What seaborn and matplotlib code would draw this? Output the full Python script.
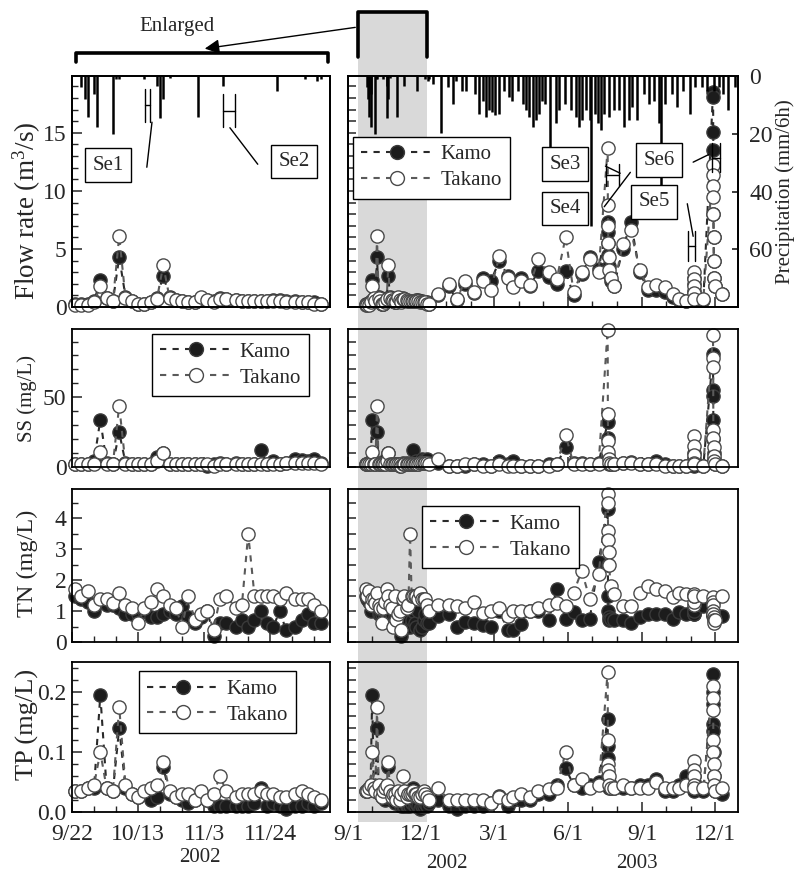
import pandas as pd
import matplotlib
matplotlib.use("Agg")
import matplotlib.pyplot as plt
import matplotlib.dates as mdates
import matplotlib.ticker as mticker
import matplotlib.transforms as mtransforms
from matplotlib.lines import Line2D
from matplotlib.patches import Rectangle, FancyArrowPatch
import seaborn as sns

# ---- sampling dates (enlarged period, then the rest of 2003) ----
sample_dates = [
    "2002-09-23", "2002-09-25", "2002-09-27", "2002-09-29", "2002-10-01", "2002-10-03", "2002-10-05", "2002-10-07", "2002-10-09", "2002-10-11",
    "2002-10-13", "2002-10-15", "2002-10-17", "2002-10-19", "2002-10-21", "2002-10-23", "2002-10-25", "2002-10-27", "2002-10-29", "2002-10-31",
    "2002-11-02", "2002-11-04", "2002-11-06", "2002-11-08", "2002-11-10", "2002-11-13", "2002-11-15", "2002-11-17", "2002-11-19", "2002-11-21",
    "2002-11-23", "2002-11-25", "2002-11-27", "2002-11-29", "2002-12-02", "2002-12-04", "2002-12-06", "2002-12-08", "2002-12-10",
    "2002-12-22", "2003-01-04", "2003-01-14", "2003-01-24", "2003-02-04", "2003-02-15", "2003-02-25", "2003-03-08", "2003-03-18", "2003-03-25",
    "2003-04-04", "2003-04-15", "2003-04-25", "2003-05-08", "2003-05-18", "2003-05-29", "2003-06-08", "2003-06-18", "2003-06-28", "2003-07-09",
    "2003-07-20 06:00", "2003-07-20 12:00", "2003-07-20 18:00", "2003-07-21 00:00", "2003-07-21 12:00", "2003-07-22", "2003-07-24",
    "2003-07-28", "2003-08-08", "2003-08-18", "2003-08-29", "2003-09-08", "2003-09-18", "2003-09-29", "2003-10-09", "2003-10-17", "2003-10-26",
    "2003-11-04 00:00", "2003-11-04 06:00", "2003-11-04 12:00", "2003-11-04 18:00", "2003-11-05",
    "2003-11-16",
    "2003-11-28 00:00", "2003-11-28 03:00", "2003-11-28 06:00", "2003-11-28 09:00", "2003-11-28 12:00", "2003-11-28 18:00",
    "2003-11-29 00:00", "2003-11-29 12:00", "2003-11-30",
    "2003-12-09",
]

flow_kamo = [
    0.3, 0.3, 0.3, 0.5, 2.3, 0.8, 0.5, 4.3, 0.9, 0.5,
    0.3, 0.3, 0.4, 0.8, 2.7, 0.9, 0.6, 0.5, 0.4, 0.4,
    0.8, 0.6, 0.5, 0.8, 0.7, 0.6, 0.5, 0.5, 0.5, 0.5,
    0.5, 0.6, 0.6, 0.5, 0.5, 0.4, 0.4, 0.4, 0.3,
    1.0, 1.8, 0.6, 2.0, 1.2, 2.5, 2.2, 4.0, 2.7, 1.8,
    2.5, 1.8, 3.1, 2.6, 2.0, 3.1, 1.0, 2.8, 4.3, 3.3,
    7.3, 6.5, 5.5, 4.5, 3.5, 2.8, 2.2,
    1.8, 5.0, 7.3, 3.0, 1.5, 1.5, 1.3, 0.9, 0.6, 0.5,
    2.5, 2.0, 1.4, 0.9, 0.6,
    0.6,
    18.5, 18.1, 15.1, 13.5, 8.0, 6.0, 4.0, 2.5, 1.8,
    1.1,
]
flow_takano = [
    0.2, 0.2, 0.2, 0.4, 1.8, 0.8, 0.5, 6.1, 0.8, 0.5,
    0.3, 0.3, 0.4, 0.7, 3.6, 0.8, 0.6, 0.5, 0.4, 0.4,
    0.9, 0.6, 0.4, 0.7, 0.7, 0.6, 0.5, 0.5, 0.5, 0.5,
    0.5, 0.5, 0.5, 0.4, 0.4, 0.4, 0.4, 0.3, 0.3,
    1.1, 2.0, 0.7, 2.2, 1.3, 2.2, 1.5, 4.4, 2.5, 1.7,
    2.2, 1.9, 4.1, 3.0, 2.4, 6.0, 1.3, 3.0, 4.1, 3.0,
    13.7, 8.8, 7.0, 5.5, 4.3, 3.2, 2.5,
    1.8, 5.4, 6.6, 3.2, 1.7, 1.9, 1.7, 1.1, 0.7, 0.5,
    3.0, 2.4, 1.8, 1.2, 0.7,
    0.7,
    12.2, 11.4, 10.4, 9.5, 8.0, 6.0, 4.0, 2.5, 1.8,
    1.1,
]

ss_kamo = [
    2, 2, 2, 4, 34, 3, 2, 25, 3, 2,
    2, 2, 2, 7, 10, 2, 2, 2, 2, 2,
    2, 1, 2, 3, 2, 3, 2, 2, 2, 12,
    2, 4, 2, 3, 6, 5, 4, 6, 3,
    3, 1, 1, 1, 2, 2, 1, 4.3, 2, 4,
    1, 1, 1, 2, 2, 14, 3, 3, 2, 3,
    32, 20.6, 8, 4, 3, 2, 2,
    2, 3, 3.5, 2, 2, 4, 2, 1, 1, 1,
    10, 6, 3, 2, 1,
    1,
    81, 55.5, 51, 34, 20, 10, 6, 3, 2,
    1,
]
ss_takano = [
    2, 2, 2, 2, 11, 2, 2, 44, 2, 2,
    2, 2, 2, 4, 10, 2, 2, 2, 2, 2,
    2, 2, 1, 2, 2, 2, 2, 2, 2, 2,
    2, 2, 2, 3, 3, 3, 3, 3, 2,
    6, 1, 1, 2, 2, 1, 1, 2, 1, 1,
    1, 1, 1, 1, 2, 23, 2, 2, 2, 2,
    98.6, 38, 18.4, 10.6, 6, 3, 2,
    2, 3, 3, 2, 2, 2, 1, 1, 1, 1,
    22, 15, 8.5, 3, 2,
    1,
    95, 78, 71.6, 26.5, 21, 14, 7.8, 4, 2,
    1,
]

tn_kamo = [
    1.5, 1.4, 1.3, 1.0, 1.3, 1.2, 1.2, 1.1, 0.9, 0.9,
    0.9, 1.0, 0.8, 0.8, 0.9, 1.0, 0.9, 1.15, 0.8, 0.6,
    0.8, 1.0, 0.2, 0.6, 0.6, 0.5, 0.7, 0.5, 0.7, 1.0,
    0.6, 0.5, 1.0, 0.4, 0.5, 0.7, 0.9, 0.6, 0.6,
    0.84, 0.9, 0.5, 0.65, 0.6, 0.55, 0.5, 1.0, 0.4, 0.4,
    0.57, 1.0, 1.0, 0.7, 1.7, 0.75, 0.96, 0.7, 0.75, 2.6,
    4.3, 2.5, 1.5, 1.0, 0.8, 0.7, 0.75,
    0.7, 0.7, 0.6, 0.8, 0.9, 0.9, 0.9, 0.75, 0.97, 0.9,
    1.0, 0.9, 0.9, 1.1, 1.0,
    1.15,
    0.9, 0.9, 0.95, 0.9, 0.85, 0.9, 0.85, 0.9, 0.9,
    0.85,
]
tn_takano = [
    1.7, 1.5, 1.65, 1.2, 1.4, 1.4, 1.25, 1.6, 1.2, 1.1,
    0.6, 1.1, 1.3, 1.7, 1.5, 1.2, 1.1, 0.5, 1.5, 0.7,
    0.9, 1.0, 0.4, 1.4, 1.5, 1.1, 1.2, 3.5, 1.5, 1.5,
    1.5, 1.5, 1.4, 1.6, 1.4, 1.4, 1.4, 1.2, 1.0,
    1.2, 1.2, 1.15, 1.1, 1.3, 0.95, 1.0, 1.1, 0.84, 1.0,
    1.0, 1.0, 1.1, 1.2, 1.25, 1.15, 1.6, 2.3, 1.4, 2.2,
    4.8, 4.5, 3.6, 3.3, 2.9, 2.5, 1.8,
    1.55, 1.15, 1.15, 1.6, 1.8, 1.7, 1.65, 1.45, 1.6, 1.55,
    1.2, 1.3, 1.5, 1.55, 1.5,
    1.5,
    1.45, 1.3, 1.2, 1.0, 0.9, 0.8, 0.7, 0.6, 0.7,
    1.5,
]

tp_kamo = [
    0.035, 0.035, 0.04, 0.04, 0.195, 0.04, 0.035, 0.14, 0.04, 0.03,
    0.025, 0.03, 0.02, 0.025, 0.075, 0.03, 0.025, 0.02, 0.015, 0.02,
    0.03, 0.02, 0.01, 0.01, 0.01, 0.01, 0.01, 0.01, 0.015, 0.04,
    0.01, 0.015, 0.01, 0.005, 0.01, 0.01, 0.015, 0.01, 0.015,
    0.02, 0.01, 0.005, 0.01, 0.01, 0.01, 0.015, 0.026, 0.01, 0.02,
    0.02, 0.02, 0.03, 0.03, 0.045, 0.073, 0.045, 0.04, 0.045, 0.05,
    0.155, 0.11, 0.09, 0.06, 0.05, 0.04, 0.04,
    0.04, 0.04, 0.04, 0.045, 0.045, 0.055, 0.035, 0.035, 0.045, 0.06,
    0.06, 0.05, 0.045, 0.04, 0.035,
    0.035,
    0.23, 0.2, 0.18, 0.147, 0.135, 0.1, 0.06, 0.04, 0.035,
    0.03,
]
tp_takano = [
    0.035, 0.035, 0.04, 0.045, 0.1, 0.04, 0.035, 0.175, 0.045, 0.03,
    0.025, 0.035, 0.04, 0.045, 0.083, 0.035, 0.025, 0.03, 0.03, 0.02,
    0.035, 0.02, 0.03, 0.06, 0.035, 0.025, 0.03, 0.03, 0.03, 0.035,
    0.03, 0.03, 0.025, 0.025, 0.03, 0.035, 0.03, 0.025, 0.02,
    0.04, 0.02, 0.02, 0.02, 0.02, 0.02, 0.015, 0.025, 0.02, 0.025,
    0.03, 0.025, 0.035, 0.038, 0.04, 0.1, 0.045, 0.055, 0.04, 0.045,
    0.234, 0.12, 0.08, 0.07, 0.06, 0.045, 0.04,
    0.04, 0.045, 0.04, 0.04, 0.04, 0.05, 0.04, 0.04, 0.04, 0.045,
    0.085, 0.07, 0.06, 0.045, 0.04,
    0.04,
    0.21, 0.19, 0.17, 0.12, 0.1, 0.08, 0.06, 0.045, 0.035,
    0.04,
]

# ---- precipitation (mm/6h) ----
rain_dates = [
    "2002-09-25", "2002-09-26", "2002-09-27", "2002-09-29", "2002-09-30", "2002-10-05", "2002-10-06", "2002-10-07",
    "2002-10-15", "2002-10-19", "2002-10-20", "2002-10-21", "2002-10-23", "2002-11-01", "2002-11-09", "2002-11-26",
    "2002-12-05", "2002-12-09", "2002-12-10",
    "2002-12-15", "2002-12-26", "2003-01-03", "2003-01-09", "2003-01-13", "2003-01-21", "2003-01-25", "2003-02-05",
    "2003-02-11", "2003-02-15", "2003-02-19", "2003-02-23", "2003-02-27", "2003-03-03", "2003-03-08", "2003-03-14",
    "2003-03-20", "2003-03-24", "2003-03-31", "2003-04-06", "2003-04-10", "2003-04-14", "2003-04-18", "2003-04-22",
    "2003-04-26", "2003-04-30", "2003-05-04", "2003-05-10", "2003-05-17", "2003-05-21", "2003-05-28", "2003-06-05",
    "2003-06-11", "2003-06-15", "2003-06-19", "2003-06-23", "2003-06-28", "2003-06-30", "2003-07-04", "2003-07-08",
    "2003-07-12", "2003-07-16", "2003-07-22", "2003-07-28", "2003-08-03", "2003-08-09", "2003-08-16", "2003-08-20",
    "2003-08-26", "2003-09-03", "2003-09-10", "2003-09-16", "2003-09-22", "2003-09-24", "2003-09-30", "2003-10-08",
    "2003-10-14", "2003-10-22", "2003-10-31", "2003-11-06", "2003-11-14", "2003-11-20", "2003-11-29", "2003-12-05",
    "2003-12-11", "2003-12-17", "2003-12-25",
]
rain_mm = [
    3.8, 7.9, 14.1, 6.2, 17.6, 20, 1, 1,
    1, 3.4, 14.5, 7.9, 0.8, 14.1, 3.4, 5.2,
    1, 1.7, 1,
    2.8, 19.8, 3.9, 9.6, 1.7, 5.1, 5.1, 6.2,
    13, 8.5, 14.2, 11.9, 12.5, 13.6, 13, 5.1,
    7.4, 8.5, 5.1, 9.6, 11.9, 14.2, 17.6, 15.3,
    13, 8.5, 9.6, 25, 16.4, 11.9, 9.6, 11.9,
    14.2, 17.6, 15.3, 11.9, 15.3, 52, 13, 16.4,
    18.7, 13, 14.2, 11.9, 11.9, 17.6, 15.3, 10.8,
    15.3, 6.2, 9.6, 8.5, 16.4, 38, 9.6, 6.2,
    10.8, 5.1, 13, 3.9, 3.9, 5.1, 5.1, 3.9,
    6.2, 11.9, 3.9,
]

series_names = ["Kamo", "Takano"]

df = pd.DataFrame({
    "date": pd.to_datetime(sample_dates, format="ISO8601"),
    "Flow_Kamo": flow_kamo, "Flow_Takano": flow_takano,
    "SS_Kamo": ss_kamo, "SS_Takano": ss_takano,
    "TN_Kamo": tn_kamo, "TN_Takano": tn_takano,
    "TP_Kamo": tp_kamo, "TP_Takano": tp_takano,
})
rain = pd.DataFrame({"date": pd.to_datetime(rain_dates, format="ISO8601"), "mm": rain_mm})

# ---- style ----
sns.set_theme(style="ticks")
plt.rcParams["font.family"] = ["Liberation Serif", "DejaVu Serif"]
plt.rcParams["mathtext.fontset"] = "custom"
plt.rcParams["mathtext.rm"] = "Liberation Serif"
plt.rcParams["mathtext.it"] = "Liberation Serif:italic"
plt.rcParams["axes.edgecolor"] = "black"
plt.rcParams["axes.linewidth"] = 1.3

W, H = 796, 876
fig = plt.figure(figsize=(W / 100, H / 100), dpi=100, facecolor="white")


def box(x0, y0, x1, y1):
    return [x0 / W, 1 - y1 / H, (x1 - x0) / W, (y1 - y0) / H]


def ftext(x, y, s, **kw):
    fig.text(x / W, 1 - y / H, s, ha="center", va="center", **kw)


cols = [(72, 330), (348, 738)]
rows = [(76, 307), (329, 467), (489, 642), (662, 812)]
axes = [[fig.add_axes(box(c[0], r[0], c[1], r[1])) for c in cols] for r in rows]

STY = {
    "Kamo": dict(color="#2a2a2a", markerfacecolor="#1c1c1c", markeredgecolor="#3a3a3a"),
    "Takano": dict(color="#5a5a5a", markerfacecolor="white", markeredgecolor="#4a4a4a"),
}
DASH = (0, (3, 3))
TICK_FS = 17

variables = ["Flow", "SS", "TN", "TP"]
ylims = [(0, 19.9), (0, 99), (0, 4.95), (0, 0.25)]
major = [5, 50, 1, 0.1]
minor = [1, 10, 0.5, 0.02]
ylabels = ["Flow rate (m$^3$/s)", "SS (mg/L)", "TN (mg/L)", "TP (mg/L)"]
label_pos_y = [211, 398, 563, 724]
label_fs = [19.5, 15, 17.5, 19]

left_lim = (pd.Timestamp("2002-09-22"), pd.Timestamp("2002-12-13"))
right_lim = (pd.Timestamp("2002-09-01"), pd.Timestamp("2003-12-29"))


def date_fmt(v, pos):
    d = mdates.num2date(v)
    return f"{d.month}/{d.day}"


for i, var in enumerate(variables):
    for j in range(2):
        ax = axes[i][j]
        ax.set_facecolor("none")
        lim = left_lim if j == 0 else right_lim
        sub = df[(df["date"] >= lim[0]) & (df["date"] <= lim[1])]
        for name in series_names:
            sns.lineplot(data=sub, x="date", y=f"{var}_{name}", ax=ax, estimator=None,
                         marker="o", markersize=9.5, markeredgewidth=1.0,
                         linestyle=DASH, linewidth=1.5, clip_on=False, legend=False,
                         **STY[name])
        ax.set_ylim(*ylims[i])
        ax.set_xlim(*lim)
        ax.set_xlabel("")
        ax.set_ylabel("")
        ax.tick_params(which="both", direction="in", top=False, right=False,
                       labelsize=TICK_FS, pad=4)
        ax.tick_params(which="major", length=7, width=1.1)
        ax.tick_params(which="minor", length=4, width=1.0)
        for s in ax.spines.values():
            s.set_visible(True)
            s.set_color("black")
        if j == 0:
            ax.yaxis.set_major_locator(mticker.MultipleLocator(major[i]))
            ax.yaxis.set_minor_locator(mticker.MultipleLocator(minor[i]))
            ax.xaxis.set_major_locator(mticker.FixedLocator(
                mdates.date2num(pd.date_range("2002-09-22", periods=4, freq="21D"))))
            ax.xaxis.set_minor_locator(mticker.FixedLocator(
                mdates.date2num(pd.date_range("2002-09-22", "2002-12-13", freq="7D"))))
        else:
            ax.yaxis.set_major_locator(mticker.MultipleLocator(minor[i]))
            ax.yaxis.set_minor_locator(mticker.NullLocator())
            ax.tick_params(axis="y", which="major", length=6, labelleft=False)
            ax.xaxis.set_major_locator(mticker.FixedLocator(
                mdates.date2num(pd.date_range("2002-09-01", "2003-12-01", freq="3MS"))))
            ax.xaxis.set_minor_locator(mdates.MonthLocator())
        ax.xaxis.set_major_formatter(mticker.FuncFormatter(date_fmt))
        if i < 3:
            ax.tick_params(labelbottom=False)
        else:
            ax.tick_params(axis="x", pad=9)
    ftext(27, label_pos_y[i], ylabels[i], rotation=90, fontsize=label_fs[i])

axes[3][0].yaxis.set_major_formatter(mticker.FormatStrFormatter("%.1f"))

# ---- precipitation on inverted twin axes ----
twins = []
for j in range(2):
    tw = axes[0][j].twinx()
    tw.vlines(rain["date"], 0, rain["mm"], colors="black", linewidth=1.8)
    tw.set_ylim(80, 0)
    tw.set_xlim(*(left_lim if j == 0 else right_lim))
    twins.append(tw)
twins[0].set_yticks([])
twins[1].set_yticks([0, 20, 40, 60])
twins[1].tick_params(direction="in", length=4, labelsize=TICK_FS, pad=8)
ftext(785, 192, "Precipitation (mm/6h)", rotation=90, fontsize=15)

# ---- legends ----
handles = [Line2D([], [], linestyle=DASH, linewidth=1.5, marker="o", markersize=10,
                  markeredgewidth=1.0, **STY[n]) for n in series_names]
leg_kw = dict(frameon=True, fancybox=False, edgecolor="black", framealpha=1,
              fontsize=15, handlelength=3.4, handletextpad=0.4, labelspacing=0.3,
              borderpad=0.4, borderaxespad=0, loc="upper left")
for tgt, anchor in [(twins[1], (0.013, 0.738)), (axes[1][0], (0.31, 0.965)),
                    (axes[2][1], (0.19, 0.89)), (axes[3][0], (0.26, 0.94))]:
    lg = tgt.legend(handles, series_names, bbox_to_anchor=anchor, **leg_kw)
    lg.get_frame().set_linewidth(1.0)


# ---- event annotations ----
def label_box(ax, x, y, txt):
    ax.text(x, y, txt, transform=ax.transAxes, ha="center", va="center", fontsize=15,
            zorder=10, bbox=dict(boxstyle="square,pad=0.35", fc="white", ec="black", lw=1.0))


def seg(ax, xs, ys):
    ax.plot(xs, ys, transform=ax.transAxes, color="black", lw=1.0, clip_on=False, zorder=9)


def hbar(ax, x0, x1, y0, y1):
    seg(ax, [x0, x0], [y0, y1])
    seg(ax, [x1, x1], [y0, y1])
    seg(ax, [x0, x1], [(y0 + y1) / 2] * 2)


tl, tr = twins
label_box(tl, 0.141, 0.614, "Se1")
seg(tl, [0.29, 0.31], [0.605, 0.80])
hbar(tl, 0.283, 0.302, 0.803, 0.943)
label_box(tl, 0.86, 0.63, "Se2")
seg(tl, [0.72, 0.612], [0.618, 0.776])
hbar(tl, 0.585, 0.632, 0.78, 0.92)

label_box(tr, 0.556, 0.619, "Se3")
label_box(tr, 0.556, 0.426, "Se4")
label_box(tr, 0.798, 0.636, "Se6")
label_box(tr, 0.785, 0.455, "Se5")
seg(tr, [0.66, 0.698], [0.61, 0.579])
hbar(tr, 0.662, 0.696, 0.523, 0.617)
seg(tr, [0.724, 0.657], [0.583, 0.434])
seg(tr, [0.87, 0.885], [0.447, 0.306])
hbar(tr, 0.871, 0.891, 0.2, 0.328)
seg(tr, [0.885, 0.925], [0.627, 0.66])
hbar(tr, 0.934, 0.955, 0.583, 0.711)

# ---- shaded enlarged window + top brackets ----
shade_start, shade_end = pd.Timestamp("2002-09-14"), pd.Timestamp("2002-12-08")
trans = mtransforms.blended_transform_factory(axes[0][1].transData, fig.transFigure)
x0n, x1n = mdates.date2num(shade_start), mdates.date2num(shade_end)
fig.add_artist(Rectangle((x0n, 1 - 822 / H), x1n - x0n, (822 - 12) / H, transform=trans,
                         facecolor="#d9d9d9", edgecolor="none", zorder=-5))
fig.add_artist(Line2D([x0n, x0n, x1n, x1n], [1 - 57 / H, 1 - 12 / H, 1 - 12 / H, 1 - 57 / H],
                      transform=trans, color="black", lw=2.6))
fig.add_artist(Line2D([76 / W, 76 / W, 328 / W, 328 / W], [1 - 62 / H, 1 - 53 / H, 1 - 53 / H, 1 - 62 / H],
                      transform=fig.transFigure, color="black", lw=2.6))
fig.add_artist(FancyArrowPatch((358 / W, 1 - 27 / H), (202 / W, 1 - 49 / H), transform=fig.transFigure,
                               arrowstyle="-|>", mutation_scale=22, color="black", lw=1.0))
ftext(177, 27, "Enlarged", fontsize=15)

# year labels
ftext(200, 858, "2002", fontsize=15)
ftext(447, 864, "2002", fontsize=15)
ftext(637, 864, "2003", fontsize=15)

fig.savefig("out.png", dpi=100, facecolor="white")
